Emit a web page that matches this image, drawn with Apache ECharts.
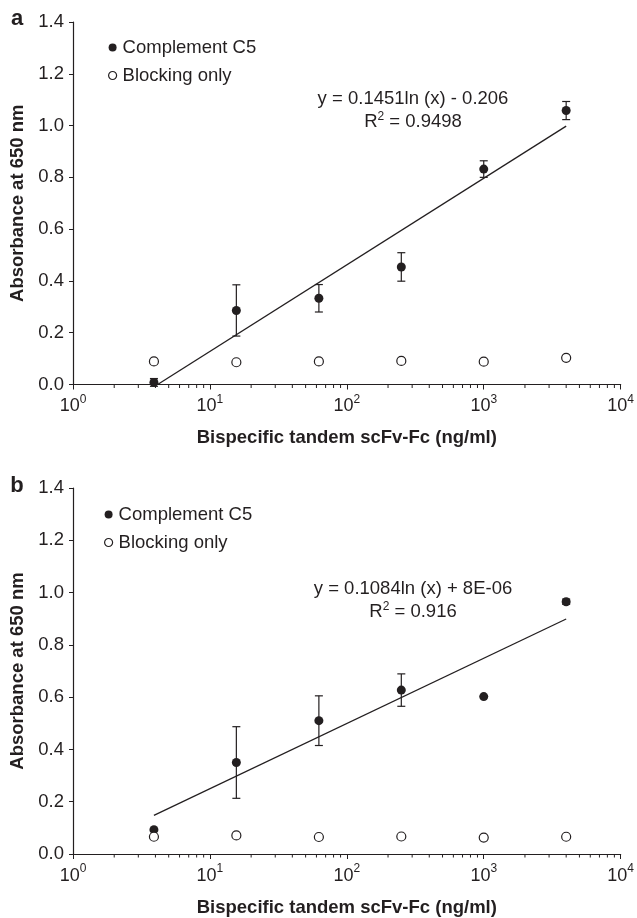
<!DOCTYPE html>
<html><head><meta charset="utf-8">
<script src="https://cdn.jsdelivr.net/npm/echarts@6/dist/echarts.min.js"></script>
<style>html,body{margin:0;padding:0;background:#fff}#c{width:637px;height:918px}</style>
</head><body><div id="c"></div>
<script>
// ---- data ----
const concentrations = [3.9, 15.6, 62.5, 250, 1000, 4000];
const c5A      = [0.008, 0.286, 0.333, 0.454, 0.832, 1.058];
const c5ErrA   = [0.015, 0.099, 0.053, 0.055, 0.032, 0.035];
const blockA   = [0.089, 0.086, 0.089, 0.091, 0.088, 0.103];
const trendA   = [[4.15, 0.0], [4000, 0.998]];
const c5B      = [0.093, 0.350, 0.510, 0.627, 0.602, 0.965];
const c5ErrB   = [0, 0.137, 0.095, 0.062, 0, 0.010];
const blockB   = [0.066, 0.071, 0.065, 0.067, 0.063, 0.066];
const trendB   = [[3.9, 0.148], [4000, 0.899]];
const eqA = ['y = 0.1451ln (x) - 0.206', '0.9498'];
const eqB = ['y = 0.1084ln (x) + 8E-06', '0.916'];
const minorMultipliers = [2,3,4,5,6,7,8,9];
const decades = [1, 10, 100, 1000];
const seriesNames = ['Complement C5', 'Blocking only'];

const INK = '#231f20';
const FONT = '"Liberation Sans", Arial, sans-serif';

const minorTicks = [];
decades.forEach(d => minorMultipliers.forEach(m => minorTicks.push([d * m, 0])));

function pts(xs, ys){ return xs.map((x,i)=>[x, ys[i]]); }

function errSeries(g, ys, errs){
  const data = [];
  concentrations.forEach((x,i)=>{ if (errs[i] > 0) data.push([x, ys[i]-errs[i], ys[i]+errs[i]]); });
  return {
    type:'custom', xAxisIndex:g, yAxisIndex:g, data, silent:true, clip:false, z:2,
    encode:{x:0, y:[1,2]},
    renderItem:(p, api)=>{
      const lo = api.coord([api.value(0), api.value(1)]);
      const hi = api.coord([api.value(0), api.value(2)]);
      const w = 4, st = {stroke:INK, lineWidth:1.2};
      return {type:'group', children:[
        {type:'line', shape:{x1:lo[0],y1:lo[1],x2:hi[0],y2:hi[1]}, style:st},
        {type:'line', shape:{x1:lo[0]-w,y1:lo[1],x2:lo[0]+w,y2:lo[1]}, style:st},
        {type:'line', shape:{x1:hi[0]-w,y1:hi[1],x2:hi[0]+w,y2:hi[1]}, style:st}
      ]};
    }
  };
}

function minorTickSeries(g){
  return {
    type:'custom', xAxisIndex:g, yAxisIndex:g, data:minorTicks, silent:true, clip:false, z:3,
    renderItem:(p, api)=>{
      const c = api.coord([api.value(0), 0]);
      return {type:'line', shape:{x1:c[0], y1:c[1], x2:c[0], y2:c[1]+3.5}, style:{stroke:INK, lineWidth:1}};
    }
  };
}

function xAxis(g){
  return {
    type:'log', logBase:10, min:1, max:10000, gridIndex:g,
    name:'Bispecific tandem scFv-Fc (ng/ml)', nameLocation:'middle', nameGap:44,
    nameTextStyle:{fontFamily:FONT, fontWeight:'bold', fontSize:18.5, color:INK},
    axisLine:{lineStyle:{color:INK, width:1.2}},
    axisTick:{show:true, inside:false, length:5, lineStyle:{color:INK, width:1}},
    splitLine:{show:false}, minorTick:{show:false},
    axisLabel:{margin:9, formatter:(v)=>'{b|10}{s|' + Math.round(Math.log10(v)) + '}',
      rich:{b:{fontFamily:FONT, fontSize:18, color:INK, lineHeight:22, verticalAlign:'bottom'},
            s:{fontFamily:FONT, fontSize:12, color:INK, lineHeight:22, verticalAlign:'top', padding:[0,0,8,0]}}}
  };
}
function yAxis(g){
  return {
    type:'value', min:0, max:1.4, interval:0.2, gridIndex:g,
    name:'Absorbance at 650 nm', nameLocation:'middle', nameGap:45,
    nameTextStyle:{fontFamily:FONT, fontWeight:'bold', fontSize:18.5, color:INK},
    axisLine:{show:true, lineStyle:{color:INK, width:1.2}},
    axisTick:{show:true, inside:false, length:4, lineStyle:{color:INK, width:1}},
    splitLine:{show:false},
    axisLabel:{margin:9, fontFamily:FONT, fontSize:18.5, color:INK, formatter:(v)=>v.toFixed(1)}
  };
}

function panelSeries(g, c5, err, block, trend){
  return [
    {name:'trend', type:'line', xAxisIndex:g, yAxisIndex:g, data:trend, symbol:'none', silent:true,
     lineStyle:{color:INK, width:1.3}, z:1, clip:true},
    errSeries(g, c5, err),
    {name:seriesNames[0], type:'scatter', xAxisIndex:g, yAxisIndex:g, data:pts(concentrations, c5),
     symbol:'circle', symbolSize:9, itemStyle:{color:INK, opacity:1}, z:3},
    {name:seriesNames[1], type:'scatter', xAxisIndex:g, yAxisIndex:g, data:pts(concentrations, block),
     symbol:'circle', symbolSize:9, itemStyle:{color:'#fff', borderColor:INK, borderWidth:1.2, opacity:1}, z:4},
    minorTickSeries(g)
  ];
}

function legend(top, left){
  return {
    top, left, orient:'vertical', itemWidth:8, itemHeight:8, itemGap:9, selectedMode:false,
    icon:'circle',
    textStyle:{fontFamily:FONT, fontSize:18.5, color:INK, padding:[0,0,0,1]},
    data:[
      {name:seriesNames[0], itemStyle:{color:INK}},
      {name:seriesNames[1], itemStyle:{color:'#fff', borderColor:INK, borderWidth:1.2}}
    ]
  };
}

function eqGraphics(x, y, eq){
  return [
    {type:'text', x, y, style:{text:eq[0], font:'18.5px ' + FONT, fill:INK, textAlign:'center', textVerticalAlign:'middle'}},
    {type:'text', x, y:y+22, style:{text:'{r|R}{s|2}{r| = ' + eq[1] + '}', textAlign:'center', textVerticalAlign:'middle',
      rich:{r:{fontFamily:FONT, fontSize:18.5, fill:INK, color:INK, lineHeight:20, verticalAlign:'bottom'},
            s:{fontFamily:FONT, fontSize:12, fill:INK, color:INK, lineHeight:20, verticalAlign:'top', padding:[0,0,7,0]}}}}
  ];
}

const chart = echarts.init(document.getElementById('c'), null, {renderer:'canvas'});
chart.setOption({
  animation:false,
  backgroundColor:'#fff',
  grid:[
    {left:73, right:16, top:22, height:362.5, containLabel:false},
    {left:73, right:16, top:488, height:368, containLabel:false}
  ],
  xAxis:[xAxis(0), xAxis(1)],
  yAxis:[yAxis(0), yAxis(1)],
  legend:[legend(33, 103), legend(500, 99)],
  series:[].concat(
    panelSeries(0, c5A, c5ErrA, blockA, trendA),
    panelSeries(1, c5B, c5ErrB, blockB, trendB)
  ),
  graphic:[
    {type:'text', x:17, y:19, style:{text:'a', font:'bold 22px ' + FONT, fill:INK, textAlign:'center', textVerticalAlign:'middle'}},
    {type:'text', x:17, y:486, style:{text:'b', font:'bold 22px ' + FONT, fill:INK, textAlign:'center', textVerticalAlign:'middle'}}
  ].concat(eqGraphics(413, 99, eqA), eqGraphics(413, 589, eqB))
});
</script>
</body></html>
